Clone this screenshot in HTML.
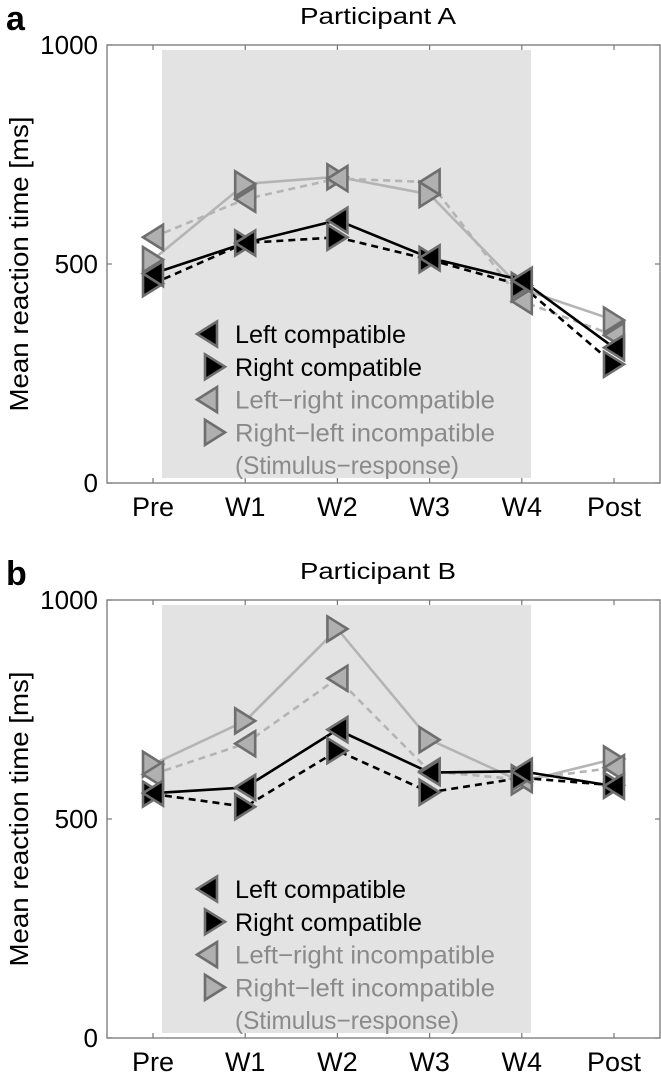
<!DOCTYPE html>
<html><head><meta charset="utf-8">
<style>
html,body{margin:0;padding:0;background:#fff;}
svg{display:block;font-family:"Liberation Sans",sans-serif;}
</style></head>
<body>
<svg id="chart" width="661" height="1073" viewBox="0 0 661 1073" xmlns="http://www.w3.org/2000/svg"></svg>
<script>
const categories = ["Pre","W1","W2","W3","W4","Post"];
const yTicks = [0,500,1000];
const seriesNames = ["Left compatible","Right compatible","Left\u2212right incompatible","Right\u2212left incompatible"];
// Participant A
const aLeftCompatible  = [478,548,600,514,463,309];
const aRightCompatible = [455,548,561,510,451,271];
const aLeftRightIncomp = [561,648,695,687,415,337];
const aRightLeftIncomp = [510,683,699,659,443,372];
// Participant B
const bLeftCompatible  = [559,572,704,606,609,575];
const bRightCompatible = [557,528,656,561,594,577];
const bLeftRightIncomp = [602,672,821,609,590,617];
const bRightLeftIncomp = [625,724,934,681,585,637];

const NS="http://www.w3.org/2000/svg";
const svg=document.getElementById('chart');
function mk(tag,attrs,parent){const e=document.createElementNS(NS,tag);for(const k in attrs)e.setAttribute(k,attrs[k]);(parent||svg).appendChild(e);return e;}

const styles=[
 {line:"#000",dash:null,fill:"#000",dir:-1},
 {line:"#000",dash:"7,5",fill:"#000",dir:1},
 {line:"#b4b4b4",dash:"7,5",fill:"#b0b0b0",dir:-1},
 {line:"#b4b4b4",dash:null,fill:"#b0b0b0",dir:1}
];
const legendColors=["#000","#000","#8a8a8a","#8a8a8a"];

function tri(g,x,y,dir,fill){
  const w=10,h=12.5;
  const p = dir<0 ? `${x+w},${y-h} ${x+w},${y+h} ${x-w},${y}` : `${x-w},${y-h} ${x-w},${y+h} ${x+w},${y}`;
  return mk('polygon',{points:p,fill:fill,stroke:"#6e6e6e","stroke-width":2.6,"stroke-linejoin":"miter"},g);
}

function panel(id,top,bottom,title,letter,series){
  const L=107,R=660;
  const xs=[153,244,337,430,523,614];
  const X=i=>xs[0]+(xs[5]-xs[0])*i/(categories.length-1);
  const Y=v=>bottom-(bottom-top)*v/1000;
  const g=mk('g',{});
  
  
  const lt=mk('text',{x:6,y:top-15,"font-size":34,"font-weight":"bold",fill:"#000"},g);
  lt.textContent=letter;
  
  
  const tt=mk('text',{x:378,y:top-21,"font-size":23,"text-anchor":"middle",fill:"#000",textLength:156,lengthAdjust:"spacingAndGlyphs"},g);
  tt.textContent=title;
  
  
  const sh=mk('rect',{x:162,y:top+5,width:369,height:(bottom-top)-10,fill:"#e3e3e3"},g);
  
  
  const fr=mk('rect',{x:L,y:top,width:R-L,height:bottom-top,fill:"none",stroke:"#777","stroke-width":1.3},g);
  
  
  categories.forEach((c,i)=>{
    const x=X(i);
    mk('line',{x1:x,x2:x,y1:bottom,y2:bottom-5,stroke:"#777","stroke-width":1.2},g);
    mk('line',{x1:x,x2:x,y1:top,y2:top+5,stroke:"#777","stroke-width":1.2},g);
    const t=mk('text',{x:x,y:bottom+33,"font-size":27,"text-anchor":"middle",fill:"#000"},g);
    t.textContent=c;
    
    
  });
  yTicks.forEach(v=>{
    const y=Y(v);
    mk('line',{x1:L,x2:L+5,y1:y,y2:y,stroke:"#777","stroke-width":1.2},g);
    mk('line',{x1:R-5,x2:R,y1:y,y2:y,stroke:"#777","stroke-width":1.2},g);
    const t=mk('text',{x:98,y:y+9,"font-size":26,"text-anchor":"end",fill:"#000"},g);
    t.textContent=v;
    
    
  });
  const cy=(top+bottom)/2;
  const yl=mk('text',{x:0,y:0,"font-size":26,"text-anchor":"middle",fill:"#000",transform:`translate(28,${cy}) rotate(-90)`,textLength:295,lengthAdjust:"spacingAndGlyphs"},g);
  yl.textContent="Mean reaction time [ms]";
  
  
  [3,2,0,1].forEach(si=>{
    const s=styles[si];
    const pts=series[si].map((v,i)=>`${X(i)},${Y(v)}`).join(' ');
    const pl=mk('polyline',{points:pts,fill:"none",stroke:s.line,"stroke-width":2.6},g);
    if(s.dash)pl.setAttribute('stroke-dasharray',s.dash);
    
    
  });
  [3,2,1,0].forEach(si=>{
    const s=styles[si];
    series[si].forEach((v,i)=>{
      const m=tri(g,X(i),Y(v),s.dir,s.fill);
      
      
    });
  });
  const lg=mk('g',{},g);
  
  
  const rows=[0,1,2,3,4].map(k=>bottom-149+k*32.8);
  const widths=[171,187,260,260,224];
  seriesNames.forEach((n,k)=>{
    const s=styles[k];
    const mx=s.dir<0?207:215;
    const m=tri(lg,mx,rows[k],s.dir,s.fill);
    
    
    const t=mk('text',{x:235,y:rows[k]+9,"font-size":25,fill:legendColors[k],textLength:widths[k],lengthAdjust:"spacingAndGlyphs"},lg);
    t.textContent=n;
    
    
  });
  const t=mk('text',{x:235,y:rows[4]+9,"font-size":25,fill:legendColors[3],textLength:widths[4],lengthAdjust:"spacingAndGlyphs"},lg);
  t.textContent="(Stimulus\u2212response)";
  
  
}
panel('participant-a',45,483,'Participant A','a',[aLeftCompatible,aRightCompatible,aLeftRightIncomp,aRightLeftIncomp]);
panel('participant-b',600,1038,'Participant B','b',[bLeftCompatible,bRightCompatible,bLeftRightIncomp,bRightLeftIncomp]);
</script>
</body></html>
